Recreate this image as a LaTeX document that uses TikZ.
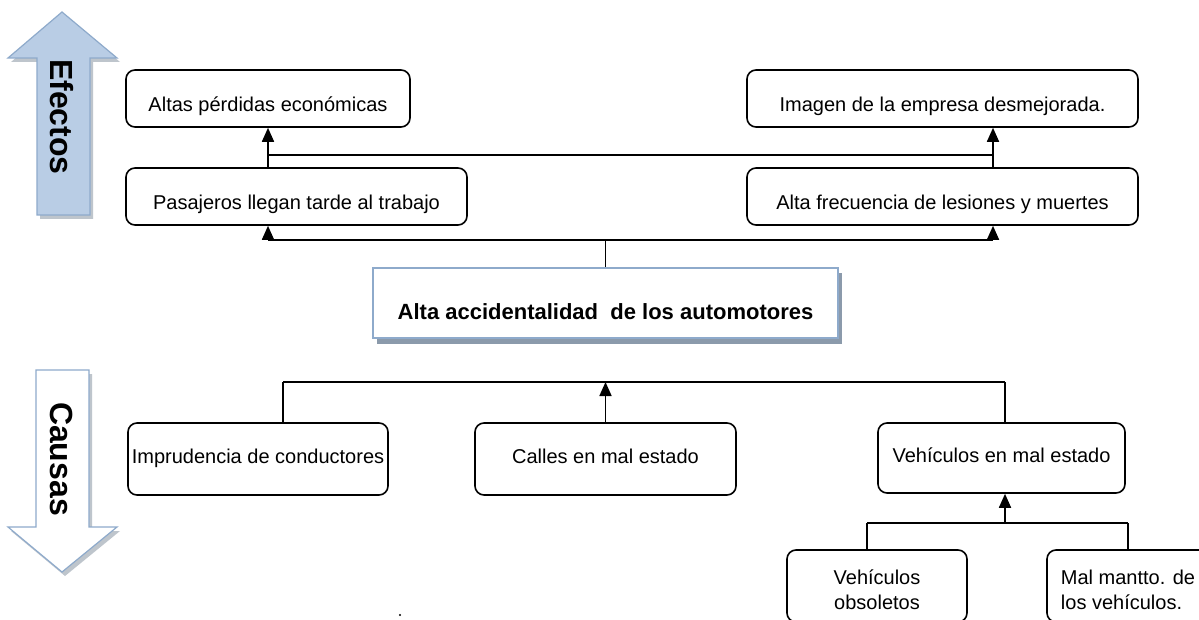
\documentclass[tikz,border=0pt]{standalone}
\usepackage{fontspec}
\setmainfont{Liberation Sans}
\usetikzlibrary{arrows.meta}
\definecolor{arrfill}{HTML}{B9CDE5}
\definecolor{arredge}{HTML}{8EAACB}
\definecolor{shad}{HTML}{8A96A3}
\begin{document}
\begin{tikzpicture}[x=1pt,y=-1pt,
  box/.style={draw,line width=1.6pt,rounded corners=9pt,fill=white,
    font=\fontsize{20}{25}\selectfont,inner sep=0pt,text depth=0pt},
  tbox/.style={box,text height=25.4pt},
  cbox/.style={box,text height=9pt},
  mbox/.style={draw,line width=1.6pt,rounded corners=9pt,fill=white,
    font=\fontsize{20}{25}\selectfont,inner sep=0pt},
  conn/.style={line width=1.7pt},
  arr/.style={conn,-{Triangle[width=12pt,length=14pt]}},
  bigtxt/.style={font=\bfseries\fontsize{32}{32}\selectfont,rotate=-90}]
\clip (0,0) rectangle (1199,620);
\fill[white] (0,0) rectangle (1199,620);

% block arrows
\fill[shad,opacity=.55] (40,219) -- (40,62) -- (11,62) -- (65,16) -- (120,62) -- (93,62) -- (93,219) -- cycle;
\draw[arredge,line width=1.2pt,fill=arrfill] (37,215) -- (37,58) -- (8,58) -- (62,12) -- (117,58) -- (90,58) -- (90,215) -- cycle;
\node[bigtxt] (efectos) at (62,117) {Efectos};

\fill[shad,opacity=.55] (39,374) -- (39,531) -- (11,531) -- (65,576) -- (120,531) -- (92,531) -- (92,374) -- cycle;
\draw[arredge,line width=1.2pt,fill=white] (36,370) -- (36,527) -- (8,527) -- (62,572) -- (117,527) -- (89,527) -- (89,370) -- cycle;
\node[bigtxt] (causas) at (62,459) {Causas};

% effects
\node[tbox,minimum width=284pt,minimum height=57pt] (altas) at (268,98.5) {Altas pérdidas económicas};
\node[tbox,minimum width=391pt,minimum height=57pt] (imagen) at (942.5,98.5) {Imagen de la empresa desmejorada.};
\node[tbox,minimum width=341pt,minimum height=57pt] (pasaj) at (296.5,196.5) {Pasajeros llegan tarde al trabajo};
\node[tbox,minimum width=391pt,minimum height=57pt] (frec) at (942.5,196.5) {Alta frecuencia de lesiones y muertes};

% central problem
\fill[shad!80!arredge] (377,273) rectangle (842,344);
\node[draw=arredge,fill=white,line width=1.6pt,minimum width=465pt,minimum height=70pt,inner sep=0pt] (central) at (605.5,303) {};
\node[font=\bfseries\fontsize{22}{22}\selectfont] (centraltxt) at (605.5,312) {Alta accidentalidad\ \ de los automotores};

% causes
\node[cbox,minimum width=260pt,minimum height=72pt] (impr) at (258,459) {Imprudencia de conductores};
\node[cbox,minimum width=261pt,minimum height=72pt] (calles) at (605.5,459) {Calles en mal estado};
\node[cbox,minimum width=247pt,minimum height=70pt] (veh) at (1001.5,458) {Vehículos en mal estado};
\node[mbox,minimum width=180pt,minimum height=72pt,align=center] (obs) at (877,586) {\rule{0pt}{22pt}Vehículos\\obsoletos};
\node[mbox,minimum width=162pt,minimum height=72pt,align=left] (mant) at (1128,586) {\rule{0pt}{22pt}Mal mantto. de\\los vehículos.};

% connectors, effects
\coordinate (lU) at (268,155);
\coordinate (rU) at (993,155);
\coordinate (lL) at (268,240);
\coordinate (rL) at (993,240);
\draw[arr] (altas.south |- pasaj.north) -- (altas.south);
\draw[arr] (rU |- frec.north) -- (rU |- imagen.south);
\draw[conn] (lU) -- (rU);
\draw[conn] (lL) -- (rL);
\draw[arr] (lL) -- (lL |- pasaj.south);
\draw[arr] (rL) -- (rL |- frec.south);
\draw[conn] (central.north) -- (central.north |- lL);

% connectors, causes
\coordinate (cl) at (283,382);
\coordinate (cr) at (1005,382);
\draw[conn] (cl) -- (cr);
\draw[conn] (cl |- impr.north) -- (cl);
\draw[arr] (calles.north) -- (calles.north |- cl);
\draw[conn] (cr |- veh.north) -- (cr);

\coordinate (bl) at (867,523);
\coordinate (br) at (1128,523);
\coordinate (bm) at (1005,523);
\draw[conn] (bl) -- (br);
\draw[arr] (bm) -- (bm |- veh.south);
\draw[conn] (bl) -- (bl |- obs.north);
\draw[conn] (br) -- (mant.north);

% stray dot
\fill (400,615) circle (1.1pt);
\end{tikzpicture}
\end{document}
